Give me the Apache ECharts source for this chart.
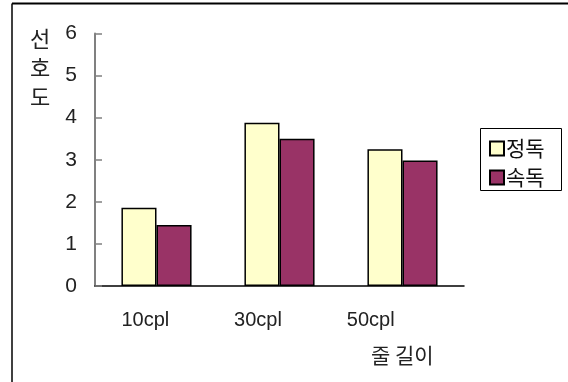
<!DOCTYPE html>
<html>
<head>
<meta charset="utf-8">
<script src="https://cdn.jsdelivr.net/npm/echarts@6/dist/echarts.min.js"></script>
<style>
  html, body { margin: 0; padding: 0; background: #fff; }
  #chart { width: 568px; height: 382px; }
</style>
</head>
<body>
<div id="chart"></div>
<script>
// Preference scores by line length (characters per line)
var categories = ['10cpl', '30cpl', '50cpl'];
var seriesNames = ['정독', '속독'];
var carefulReading = [1.86, 3.88, 3.25];
var speedReading = [1.45, 3.50, 2.98];
var yTicks = [0, 1, 2, 3, 4, 5, 6];

var latin = '"Liberation Sans", "Noto Sans CJK KR", sans-serif';
var hangul = '"Noto Sans CJK KR", "Liberation Sans", sans-serif';

var chart = echarts.init(document.getElementById('chart'), null, { renderer: 'canvas' });

chart.setOption({
  backgroundColor: '#ffffff',
  animation: false,
  grid: [
    { left: 95, top: 33.5, right: 104, bottom: 96 },
    { left: 89, width: 338, top: 33.5, bottom: 96 }
  ],
  legend: {
    data: seriesNames,
    orient: 'vertical',
    left: 489,
    top: 138,
    itemWidth: 14,
    itemHeight: 14,
    itemGap: 8,
    padding: [0, 0, 0, 0],
    icon: 'rect',
    textStyle: { fontFamily: hangul, fontSize: 21, lineHeight: 20, color: '#111', padding: [0, 0, 0, -3] }
  },
  xAxis: [
    {
      type: 'category',
      gridIndex: 0,
      data: categories,
      axisLine: { lineStyle: { color: '#000', width: 1.5 } },
      axisTick: { inside: true, length: 7, lineStyle: { color: '#000', width: 1.5 } },
      axisLabel: { show: false }
    },
    {
      type: 'category',
      gridIndex: 1,
      data: categories,
      axisLine: { show: false },
      axisTick: { show: false },
      axisLabel: { fontFamily: latin, fontSize: 20, color: '#222', margin: 24 }
    }
  ],
  yAxis: [
    {
      type: 'value',
      gridIndex: 0,
      min: 0,
      max: 6,
      interval: 1,
      splitLine: { show: false },
      axisLine: { show: true, lineStyle: { color: '#808080', width: 2 } },
      axisTick: { show: true, inside: true, length: 7, lineStyle: { color: '#808080', width: 1.5 } },
      axisLabel: {
        fontFamily: latin, fontSize: 21, color: '#222', margin: 18,
        formatter: function (v) { return yTicks.indexOf(v) >= 0 ? String(v) : ''; }
      }
    },
    {
      type: 'value',
      gridIndex: 1,
      min: 0,
      max: 6,
      show: false
    }
  ],
  series: [
    {
      name: seriesNames[0],
      type: 'bar',
      xAxisIndex: 0,
      yAxisIndex: 0,
      data: carefulReading,
      barGap: '0%',
      barCategoryGap: '43%',
      itemStyle: { color: '#FFFFCC', borderColor: '#000', borderWidth: 1.5 }
    },
    {
      name: seriesNames[1],
      type: 'bar',
      xAxisIndex: 0,
      yAxisIndex: 0,
      data: speedReading,
      barGap: '0%',
      barCategoryGap: '43%',
      itemStyle: { color: '#993366', borderColor: '#000', borderWidth: 1.5 }
    }
  ],
  graphic: [
    // outer frame (top and left edges)
    { type: 'line', shape: { x1: 12, y1: 3.5, x2: 568, y2: 3.5 }, style: { stroke: '#000', lineWidth: 2 } },
    { type: 'line', shape: { x1: 12, y1: 3.5, x2: 12, y2: 382 }, style: { stroke: '#000', lineWidth: 1.5 } },
    // legend box
    { type: 'rect', shape: { x: 480.5, y: 128.5, width: 81, height: 62 }, style: { fill: 'none', stroke: '#000', lineWidth: 1 } },
    // vertical y-axis title
    {
      type: 'text', left: 30, top: 24,
      style: { text: '선\n호\n도', font: '22px ' + hangul, fill: '#222', lineHeight: 29, align: 'center' }
    },
    // x-axis title
    {
      type: 'text', left: 371, top: 345,
      style: { text: '줄 길이', font: '21px ' + hangul, fill: '#222' }
    }
  ]
});
</script>
</body>
</html>
